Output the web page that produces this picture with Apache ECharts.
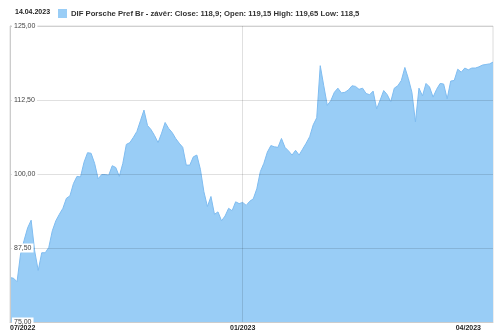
<!DOCTYPE html>
<html><head><meta charset="utf-8">
<script src="https://cdn.jsdelivr.net/npm/echarts@6/dist/echarts.min.js"></script>
<style>html,body{margin:0;padding:0;background:#fff}#c{width:500px;height:335px}</style>
</head><body><div id="c"></div>
<script>
var closes = [82.5,82.4,81.8,86.5,88.8,90.9,92.2,87.0,83.7,86.7,86.7,87.6,90.4,92.1,93.2,94.2,95.9,96.3,98.4,99.6,
99.5,102.0,103.6,103.5,101.8,99.2,99.9,99.9,99.8,101.4,101.1,99.6,101.8,105.0,105.3,106.2,107.2,109.0,110.8,108.2,
107.5,106.5,105.3,106.9,108.7,107.7,107.0,106.0,105.2,104.5,101.5,101.5,102.9,103.2,100.8,97.0,94.5,96.2,93.2,93.6,
92.1,92.9,94.2,93.8,95.3,95.0,95.2,94.7,95.4,95.8,97.5,100.4,101.8,103.7,104.8,104.6,104.5,106.0,104.5,103.9,
103.2,104.0,103.2,104.2,105.2,106.3,108.3,109.5,118.3,114.9,111.6,112.4,113.8,114.5,113.7,113.8,114.2,114.9,114.8,114.3,
114.5,113.6,113.4,114.0,111.0,112.5,114.1,113.4,112.2,114.5,114.9,115.8,118.0,116.1,113.8,108.8,114.5,113.2,115.3,114.7,
113.0,114.3,115.3,115.2,112.7,115.7,115.8,117.7,117.2,117.9,117.6,117.9,117.9,118.1,118.4,118.5,118.6,118.9];
var categories = closes.map(function(v,i){return i;});
var tickIndex = [0, 66, 130];
var tickLabels = ['07/2022', '01/2023', '04/2023'];
var gridIndex = [66];
var yTicks = ['75,00','87,50','100,00','112,50','125,00'];
var seriesName = 'DIF Porsche Pref Br - závěr: Close: 118,9; Open: 119,15 High: 119,65 Low: 118,5';
var dateTitle = '14.04.2023';

var chart = echarts.init(document.getElementById('c'), null, {renderer:'canvas'});
chart.setOption({
  animation: false,
  textStyle: {fontFamily: 'Liberation Sans, Arial, sans-serif'},
  title: {text: dateTitle, left: 15, top: 9, padding: 0,
    textStyle: {fontSize: 7, fontWeight: 'bold', color: '#222', fontFamily: 'Liberation Sans'}},
  legend: {left: 58, top: 9, padding: 0, itemWidth: 9, itemHeight: 9, itemGap: 4,
    icon: 'rect',
    textStyle: {fontSize: 7.7, fontWeight: 'bold', color: '#333', fontFamily: 'Liberation Sans', padding: [0,0,0,-1]},
    data: [{name: seriesName, itemStyle: {color: '#99cdf6', borderWidth: 0}}]},
  grid: {left: 10, right: 7, top: 26, bottom: 13, show: true, borderColor: '#dcdcdc', borderWidth: 1},
  xAxis: {
    type: 'category', data: categories, boundaryGap: false, z: 5,
    axisLine: {show: true, lineStyle: {color: '#ccc'}},
    axisTick: {show: false},
    splitLine: {show: true, interval: function(i){ return gridIndex.indexOf(i) >= 0; }, lineStyle: {color: 'rgba(0,0,0,0.12)'}},
    axisLabel: {
      interval: function(i){ return tickIndex.indexOf(i) >= 0; },
      formatter: function(v, i){ var k = tickIndex.indexOf(Number(v)); return k >= 0 ? tickLabels[k] : ''; },
      fontSize: 7, fontWeight: 'bold', color: '#222', margin: 3, alignMinLabel: 'left',
      fontFamily: 'Liberation Sans'
    }
  },
  yAxis: {
    type: 'value', min: 75, max: 125, interval: 12.5, z: 5,
    axisLine: {show: true, lineStyle: {color: '#ccc'}},
    axisTick: {show: false},
    splitLine: {lineStyle: {color: 'rgba(0,0,0,0.12)'}},
    axisLabel: {inside: true, margin: 2, fontSize: 7, color: '#444', backgroundColor: '#fff',
      padding: [1,2,1,2], fontFamily: 'Liberation Sans',
      formatter: function(v){ var k = Math.round((v-75)/12.5); return yTicks[k]; }}
  },
  series: [{
    name: seriesName, type: 'line', data: closes, symbol: 'none', showSymbol: false,
    lineStyle: {width: 1, color: '#7fbcf0'},
    itemStyle: {color: '#99cdf6'},
    areaStyle: {color: '#99cdf6', opacity: 1},
    z: 1
  }]
});
</script></body></html>
